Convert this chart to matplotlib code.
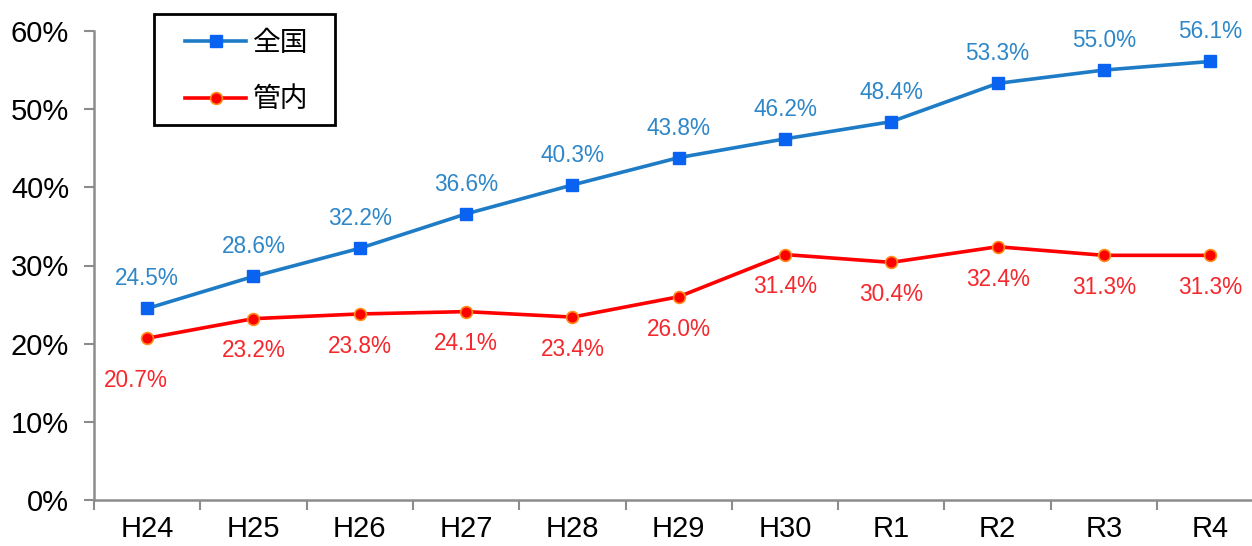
import numpy as np
import matplotlib
matplotlib.use('Agg')
import matplotlib.pyplot as plt
from matplotlib.patches import Rectangle

plt.rcParams['font.family'] = ['Liberation Sans', 'Noto Sans CJK JP']

years = ['H24', 'H25', 'H26', 'H27', 'H28', 'H29', 'H30', 'R1', 'R2', 'R3', 'R4']
zenkoku = [24.5, 28.6, 32.2, 36.6, 40.3, 43.8, 46.2, 48.4, 53.3, 55.0, 56.1]
kannai = [20.7, 23.2, 23.8, 24.1, 23.4, 26.0, 31.4, 30.4, 32.4, 31.3, 31.3]
series_names = ['全国', '管内']

blue_line = '#1E7BC6'
blue_mark = '#0A63F0'
blue_text = '#2F87C8'
red_line = '#FF0000'
red_text = '#F5282D'

W, H = 1252, 546
fig = plt.figure(figsize=(W / 100, H / 100), dpi=100)
ax = fig.add_axes([94 / W, 46 / H, 11 * 106.3 / W, 469 / H])

x = np.arange(len(years))
ax.plot(x, zenkoku, color=blue_line, lw=2.6, marker='s', ms=8,
        mfc=blue_mark, mec=blue_mark, label=series_names[0], zorder=3)
ax.plot(x, kannai, color=red_line, lw=2.6, marker='o', ms=8.5,
        mfc=red_line, mec='#FF8C1A', mew=1.2, label=series_names[1], zorder=3)

for i, v in enumerate(zenkoku):
    ax.annotate(f'{v:.1f}%', (i, v), xytext=(0, 13), textcoords='offset points',
                ha='center', va='bottom', fontsize=16.3, color=blue_text)
for i, v in enumerate(kannai):
    dx = -8 if i == 0 else 0
    dy = -22 if i == 0 else -15
    ax.annotate(f'{v:.1f}%', (i, v), xytext=(dx, dy), textcoords='offset points',
                ha='center', va='top', fontsize=16.3, color=red_text)

ax.set_xlim(-0.5, len(years) - 0.5)
ax.set_ylim(0, 60)
ax.set_yticks(np.arange(0, 61, 10))
ax.set_yticklabels([f'{t}%' for t in range(0, 61, 10)], fontsize=21)

ax.set_xticks(np.arange(-0.5, len(years), 1))
ax.set_xticklabels([])
ax.set_xticks(x, minor=True)
ax.set_xticklabels(years, minor=True, fontsize=21)
ax.tick_params(axis='x', which='major', length=7, width=1.5, color='#8C8C8C')
ax.tick_params(axis='x', which='minor', length=0, pad=11)
ax.tick_params(axis='y', length=7, width=1.5, color='#8C8C8C', pad=11)

for s in ['top', 'right']:
    ax.spines[s].set_visible(False)
for s in ['left', 'bottom']:
    ax.spines[s].set_color('#8C8C8C')
    ax.spines[s].set_linewidth(1.8)

# legend frame drawn separately (wider side padding than matplotlib allows)
fig.patches.append(Rectangle((154 / W, 1 - 125 / H), 181 / W, 111 / H,
                             transform=fig.transFigure, fill=True, facecolor='white',
                             edgecolor='black', linewidth=2, zorder=5))
leg = fig.legend(loc='upper left', bbox_to_anchor=(185 / W, 1 - 28 / H),
                 prop={'family': ['Noto Sans CJK JP'], 'size': 20},
                 frameon=False, handlelength=2.2, handletextpad=0.25,
                 labelspacing=0.95, borderpad=0, borderaxespad=0)
leg.set_zorder(6)

fig.savefig('out.png', dpi=100)
